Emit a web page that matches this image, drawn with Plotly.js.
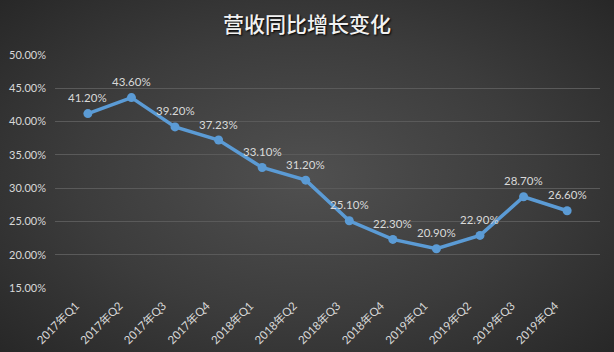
<!DOCTYPE html>
<html>
<head>
<meta charset="utf-8">
<script src="https://cdn.plot.ly/plotly-3.0.1.min.js"></script>
<style>
  html, body { margin: 0; padding: 0; }
  body { width: 614px; height: 352px; overflow: hidden;
         background: radial-gradient(ellipse 75% 80% at 50% 50%, #505050 0%, #3c3c3c 50%, #232323 100%); }
  #chart { width: 614px; height: 352px; }
</style>
</head>
<body>
<div id="chart"></div>
<script>
const categories = ["2017年Q1","2017年Q2","2017年Q3","2017年Q4","2018年Q1","2018年Q2","2018年Q3","2018年Q4","2019年Q1","2019年Q2","2019年Q3","2019年Q4"];
const growthPct = [41.20, 43.60, 39.20, 37.23, 33.10, 31.20, 25.10, 22.30, 20.90, 22.90, 28.70, 26.60];
const yTickValues = [15, 20, 25, 30, 35, 40, 45, 50];
const yTickLabels = yTickValues.map(v => v.toFixed(2) + "%");
const titleText = "营收同比增长变化";

const trace = {
  x: categories,
  y: growthPct,
  type: "scatter",
  mode: "lines+markers",
  line: { color: "#5B9BD5", width: 3.5 },
  marker: { color: "#5B9BD5", size: 9 },
  cliponaxis: false,
  hoverinfo: "skip"
};

const labelAnnotations = categories.map((c, i) => ({
  x: c, y: growthPct[i], xref: "x", yref: "y",
  text: growthPct[i].toFixed(2) + "%",
  showarrow: false, yshift: 16,
  font: { family: "Lato, 'Noto Sans', sans-serif", size: 11.5, color: "#d9d9d9" }
}));

const layout = {
  width: 614, height: 352,
  paper_bgcolor: "rgba(0,0,0,0)",
  plot_bgcolor: "rgba(0,0,0,0)",
  margin: { l: 55, r: 14, t: 55, b: 64 },
  showlegend: false,
  annotations: labelAnnotations,
  title: {
    text: titleText,
    x: 0.5, xanchor: "center",
    y: 0.93, yanchor: "middle",
    font: { family: "'Noto Sans CJK SC', sans-serif", size: 21, weight: 500, color: "#f2f2f2", shadow: "1px 1px 2px #000" }
  },
  xaxis: {
    type: "category",
    showgrid: false, zeroline: false, showline: false,
    ticks: "",
    tickangle: -45,
    ticklabelstandoff: 8,
    ticklabelshift: -12,
    tickfont: { family: "Lato, 'Noto Sans CJK SC', sans-serif", size: 11.5, color: "#d9d9d9" }
  },
  yaxis: {
    range: [15, 50],
    tickvals: yTickValues,
    ticktext: yTickLabels,
    showgrid: true, gridcolor: "#5a5a5a", gridwidth: 1,
    zeroline: false, showline: false,
    ticks: "",
    ticklabelstandoff: 8,
    tickfont: { family: "Lato, 'Noto Sans', sans-serif", size: 11, color: "#d9d9d9" }
  }
};

Plotly.newPlot("chart", [trace], layout, { displayModeBar: false, staticPlot: true });
</script>
</body>
</html>
